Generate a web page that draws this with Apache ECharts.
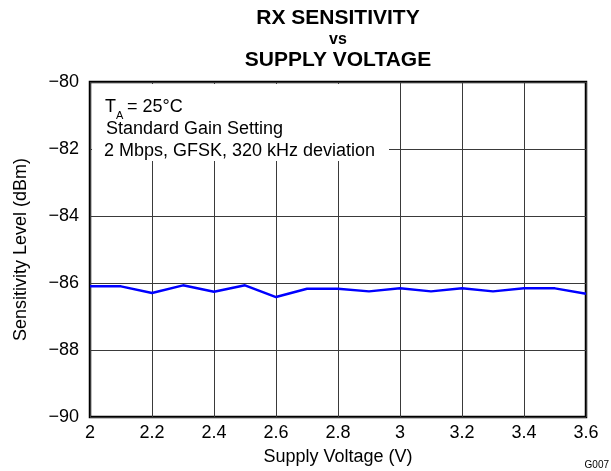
<!DOCTYPE html>
<html>
<head>
<meta charset="utf-8">
<script src="https://cdn.jsdelivr.net/npm/echarts@6/dist/echarts.min.js"></script>
<style>
  html, body { margin: 0; padding: 0; background: #fff; }
  #chart { width: 611px; height: 471px; }
</style>
</head>
<body>
<div id="chart"></div>
<script>
// supply voltage (V) and measured sensitivity (dBm)
const voltages = [2.0, 2.1, 2.2, 2.3, 2.4, 2.5, 2.6, 2.7, 2.8, 2.9, 3.0, 3.1, 3.2, 3.3, 3.4, 3.5, 3.6]
const sensitivity = [-86.1, -86.1, -86.3, -86.07, -86.26, -86.07, -86.42, -86.17, -86.17, -86.25, -86.16, -86.25, -86.16, -86.25, -86.16, -86.16, -86.32]
const titleLines = ['RX SENSITIVITY', 'vs', 'SUPPLY VOLTAGE']
const noteLines = ['Standard Gain Setting', '2 Mbps, GFSK, 320 kHz deviation']

const chart = echarts.init(document.getElementById('chart'))
const font = '"Liberation Sans", Arial, sans-serif'
const plotCenterX = (90 + 586) / 2

const option = {
  backgroundColor: '#fff',
  animation: false,
  textStyle: { fontFamily: font },
  grid: {
    left: 90, right: 25, top: 82, bottom: 54,
    outerBoundsMode: 'none',
    containLabel: false,
    show: true,
    borderColor: '#000',
    borderWidth: 2.5,
    backgroundColor: 'transparent'
  },
  xAxis: {
    type: 'value',
    min: 2,
    max: 3.6,
    interval: 0.2,
    name: 'Supply Voltage (V)',
    nameLocation: 'middle',
    nameGap: 31,
    nameTextStyle: { color: '#000', fontSize: 18, fontFamily: font },
    axisLine: { show: false },
    axisTick: { show: false },
    axisLabel: {
      color: '#000', fontSize: 18, margin: 7,
      formatter: v => String(Math.round(v * 10) / 10)
    },
    splitLine: { lineStyle: { color: '#3a3a3a', width: 1 } }
  },
  yAxis: {
    type: 'value',
    min: -90,
    max: -80,
    interval: 2,
    name: 'Sensitivity Level (dBm)',
    nameLocation: 'middle',
    nameGap: 60,
    nameTextStyle: { color: '#000', fontSize: 18, fontFamily: font },
    axisLine: { show: false },
    axisTick: { show: false },
    axisLabel: {
      color: '#000', fontSize: 18, margin: 11,
      formatter: v => String(v).replace('-', '\u2212')
    },
    splitLine: { lineStyle: { color: '#3a3a3a', width: 1 } }
  },
  graphic: [
    {
      type: 'text', x: plotCenterX, y: 8,
      style: { text: titleLines[0], fill: '#000', font: 'bold 21px ' + font, align: 'center', verticalAlign: 'top' }
    },
    {
      type: 'text', x: plotCenterX, y: 32,
      style: { text: titleLines[1], fill: '#000', font: 'bold 16px ' + font, align: 'center', verticalAlign: 'top' }
    },
    {
      type: 'text', x: plotCenterX, y: 50,
      style: { text: titleLines[2], fill: '#000', font: 'bold 21px ' + font, align: 'center', verticalAlign: 'top' }
    },
    {
      type: 'rect', z: 1,
      shape: { x: 92, y: 84, width: 297, height: 77 },
      style: { fill: '#fff' }
    },
    {
      type: 'text', z: 2, left: 105, top: 98,
      style: { text: 'T', fill: '#000', font: '18px ' + font }
    },
    {
      type: 'text', z: 2, left: 116, top: 110,
      style: { text: 'A', fill: '#000', font: '11px ' + font }
    },
    {
      type: 'text', z: 2, left: 127, top: 98,
      style: { text: '= 25°C', fill: '#000', font: '18px ' + font }
    },
    {
      type: 'text', z: 2, left: 106, top: 120,
      style: { text: noteLines[0], fill: '#000', font: '18px ' + font }
    },
    {
      type: 'text', z: 2, left: 104, top: 142,
      style: { text: noteLines[1], fill: '#000', font: '18px ' + font }
    },
    {
      type: 'text', right: 2, bottom: 1,
      style: { text: 'G007', fill: '#000', font: '10px ' + font }
    }
  ],
  series: [
    {
      type: 'line',
      z: 3,
      data: voltages.map((v, i) => [v, sensitivity[i]]),
      showSymbol: false,
      lineStyle: { color: '#0000ff', width: 2.5 }
    }
  ]
}

chart.setOption(option)
</script>
</body>
</html>
